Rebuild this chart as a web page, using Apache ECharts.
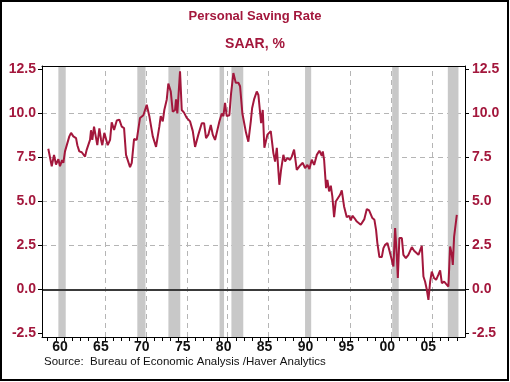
<!DOCTYPE html>
<html><head><meta charset="utf-8">
<script src="https://cdn.jsdelivr.net/npm/echarts@6/dist/echarts.min.js"></script>
<style>html,body{margin:0;padding:0;background:#fff}#c{width:510px;height:382px}</style>
</head><body><div id="c"></div>
<script>
const years = [1959.07,1959.28,1959.49,1959.77,1960.01,1960.30,1960.50,1960.75,1960.91,1961.11,1961.32,1961.64,1961.85,1962.13,1962.46,1962.62,1962.86,1963.16,1963.35,1963.56,1963.77,1963.96,1964.17,1964.29,1964.45,1964.66,1964.87,1965.06,1965.31,1965.52,1965.67,1965.92,1966.09,1966.33,1966.62,1966.82,1967.11,1967.44,1967.75,1968.05,1968.33,1968.57,1968.78,1969.06,1969.27,1969.55,1969.88,1970.28,1970.69,1971.10,1971.42,1971.84,1972.24,1972.64,1972.81,1973.06,1973.25,1973.55,1973.74,1974.04,1974.28,1974.56,1974.68,1974.84,1975.05,1975.17,1975.38,1975.66,1975.99,1976.40,1976.73,1977.01,1977.41,1977.83,1978.11,1978.35,1978.63,1978.93,1979.17,1979.45,1979.73,1979.98,1980.27,1980.47,1980.67,1980.88,1981.20,1981.41,1981.69,1981.98,1982.30,1982.51,1982.79,1982.91,1983.24,1983.52,1983.82,1983.98,1984.22,1984.55,1984.75,1985.08,1985.28,1985.48,1985.85,1986.26,1986.58,1986.79,1987.00,1987.31,1987.52,1987.80,1988.01,1988.29,1988.62,1988.83,1989.11,1989.44,1989.76,1990.17,1990.45,1990.74,1990.98,1991.27,1991.56,1991.89,1992.20,1992.50,1992.62,1992.78,1993.02,1993.18,1993.39,1993.60,1993.79,1994.00,1994.21,1994.45,1994.73,1994.94,1995.22,1995.55,1995.83,1996.04,1996.24,1996.48,1996.78,1997.02,1997.26,1997.46,1997.70,1998.00,1998.28,1998.49,1998.68,1998.93,1999.13,1999.29,1999.54,1999.83,2000.03,2000.24,2000.52,2000.76,2000.93,2001.05,2001.25,2001.46,2001.67,2001.79,2001.98,2002.28,2002.47,2002.77,2003.08,2003.50,2003.78,2004.02,2004.31,2004.51,2004.72,2004.92,2005.12,2005.33,2005.53,2005.74,2005.94,2006.22,2006.47,2006.75,2006.96,2007.17,2007.45,2007.69,2007.97,2008.18,2008.39,2008.51,2008.67,2009.00];
const savingRate = [8.0,8.1,7.0,7.65,7.1,7.4,7.0,7.35,7.2,7.85,7.75,8.7,8.9,8.7,8.6,8.2,7.85,7.8,7.75,7.55,7.95,8.05,8.5,9.05,8.5,9.25,8.7,8.2,9.15,8.5,8.2,8.9,9.0,8.2,8.5,9.5,9.07,9.6,9.65,9.25,9.17,7.65,7.7,6.95,7.2,8.55,8.5,9.75,9.9,10.5,9.85,8.7,8.1,9.25,9.85,9.55,10.2,10.8,11.7,11.25,10.1,10.2,10.8,10.0,10.1,12.4,10.2,10.05,9.75,9.55,9.0,8.1,8.8,9.45,9.45,8.6,8.8,9.35,8.8,8.5,9.05,9.55,10.0,9.85,10.6,9.85,9.9,11.15,12.3,11.75,11.75,11.55,10.0,9.9,8.9,8.4,9.55,10.3,10.8,11.25,11.05,9.45,10.2,8.05,8.8,9.0,7.75,7.27,8.05,5.95,6.8,7.65,7.27,7.47,7.37,7.55,7.95,6.8,7.0,7.2,6.9,7.08,6.85,7.37,7.08,7.65,7.88,7.6,7.85,7.37,5.76,6.23,5.57,5.9,5.28,4.11,5.0,5.06,5.38,5.63,4.72,4.11,4.19,3.92,4.19,4.06,3.86,3.96,3.68,3.73,4.0,4.57,4.49,4.38,4.06,3.96,3.39,2.64,1.84,1.84,2.35,2.54,2.64,2.22,1.9,1.69,1.31,3.49,1.88,0.65,2.92,2.92,1.97,1.78,1.97,2.41,2.2,2.16,1.97,1.88,2.48,0.74,0.45,0.0,-0.59,0.45,1.02,0.65,0.55,0.84,1.08,0.36,0.45,0.32,0.17,2.44,1.97,1.4,3.01,4.24];
const recessionStart = [1960.3,1969.95,1973.75,1980.0,1981.45,1990.45,2001.1,2007.9];
const recessionEnd   = [1961.2,1970.95,1975.2,1980.55,1982.9,1991.2,2001.9,2009.2];
const yTickValues = [-2.5,0,2.5,5,7.5,10,12.5];
const hGridValues = [2.5,5,7.5,10];
const vGridYears = [1966,1971,1976,1981,1986,1991,1996,2001,2006];
const xLabelYears = [1960.5,1965.5,1970.5,1975.5,1980.5,1985.5,1990.5,1995.5,2000.5,2005.5];
const xTickYears = [];
for (let y = 1959; y <= 2009; y++) xTickYears.push(y);

const crimson = '#a3173c';
const chart = echarts.init(document.getElementById('c'), null, {renderer:'canvas'});
const font = 'Liberation Sans, Arial, sans-serif';
const lineData = years.map((y,i)=>[y, savingRate[i]]);
const yAxisCommon = {
  type:'value', min:-2.7, max:12.7, z:8,
  axisLine:{show:true, lineStyle:{color:'#000', width:1}},
  axisTick:{show:true, customValues:yTickValues, length:4, lineStyle:{color:'#000'}},
  axisLabel:{customValues:yTickValues, color:crimson, fontWeight:'bold', fontSize:14, fontFamily:font, margin:6,
    formatter:v=>v.toFixed(1)},
  splitLine:{show:false}
};
chart.setOption({
  animation:false,
  backgroundColor:'#fff',
  title:[
    {text:'Personal Saving Rate', left:'center', top:10, padding:0,
     textStyle:{color:crimson, fontSize:13, fontWeight:'bold', fontFamily:font}},
    {text:'SAAR, %', left:'center', top:37, padding:0,
     textStyle:{color:crimson, fontSize:14, fontWeight:'bold', fontFamily:font}}
  ],
  grid:{left:42, right:45, top:66, bottom:45, containLabel:false},
  xAxis:[
    {type:'value', min:1958.3, max:2010.0, position:'bottom', z:8,
     axisLine:{show:true, onZero:false, lineStyle:{color:'#000', width:1}},
     axisTick:{show:true, customValues:xTickYears, length:4, lineStyle:{color:'#000'}},
     axisLabel:{customValues:xLabelYears, color:'#111', fontWeight:'bold', fontSize:14, fontFamily:font, margin:3,
       formatter:v=>String(Math.floor(v)%100).padStart(2,'0')},
     splitLine:{show:false}},
    {type:'value', min:1958.3, max:2010.0, position:'top', z:8,
     axisLine:{show:true, onZero:false, lineStyle:{color:'#000', width:1}},
     axisTick:{show:false}, axisLabel:{show:false}, splitLine:{show:false}}
  ],
  yAxis:[
    Object.assign({}, yAxisCommon, {position:'left'}),
    Object.assign({}, yAxisCommon, {position:'right', axisLabel:Object.assign({}, yAxisCommon.axisLabel, {margin:7})})
  ],
  graphic:[
    {type:'rect', shape:{x:1, y:1, width:507, height:379}, style:{fill:null, stroke:'#000', lineWidth:2}, silent:true},
    {type:'text', left:44, top:356, style:{text:'Source:  Bureau of Economic Analysis /Haver Analytics', fill:'#111', font:'11.5px '+font}}
  ],
  series:[
    {type:'line', data:[], silent:true,
     markLine:{silent:true, symbol:'none', z:1, label:{show:false},
       lineStyle:{color:'#b5b5b5', type:[5,4], width:1},
       data:hGridValues.map(v=>({yAxis:v})).concat(vGridYears.map(v=>({xAxis:v})))}},
    {type:'line', data:[], silent:true,
     markArea:{silent:true, z:2, itemStyle:{color:'#c8c8c8'},
       data:recessionStart.map((s,i)=>[{xAxis:s},{xAxis:recessionEnd[i]}])}},
    {type:'line', data:[], silent:true,
     markLine:{silent:true, symbol:'none', z:3, label:{show:false},
       lineStyle:{color:'#3a3a3a', type:'solid', width:2},
       data:[{yAxis:0}]}},
    {type:'line', data:lineData, z:10, showSymbol:false, symbol:'none',
     lineStyle:{color:crimson, width:2}, itemStyle:{color:crimson}}
  ]
});
</script>
</body></html>
